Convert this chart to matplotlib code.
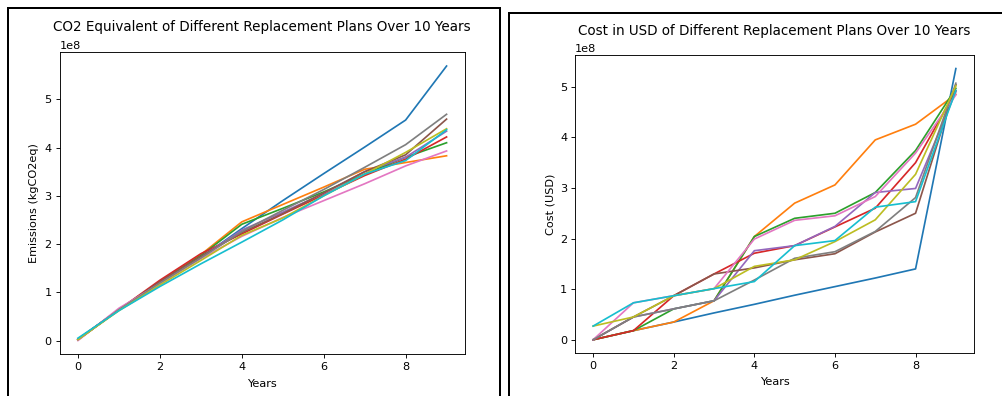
import matplotlib
matplotlib.use("Agg")
import matplotlib.pyplot as plt
from matplotlib.patches import Rectangle
import numpy as np

years = list(range(10))
plan_names = ["Plan 1", "Plan 2", "Plan 3", "Plan 4", "Plan 5",
              "Plan 6", "Plan 7", "Plan 8", "Plan 9", "Plan 10"]

# Cumulative emissions per plan (x 1e8 kgCO2eq)
emissions = [
    [0.03, 0.64, 1.20, 1.72, 2.32, 2.90, 3.46, 4.01, 4.57, 5.69],
    [0.02, 0.64, 1.22, 1.78, 2.46, 2.82, 3.18, 3.55, 3.69, 3.83],
    [0.02, 0.64, 1.21, 1.76, 2.41, 2.74, 3.08, 3.45, 3.80, 4.10],
    [0.02, 0.64, 1.25, 1.80, 2.21, 2.62, 3.02, 3.42, 3.76, 4.22],
    [0.02, 0.64, 1.20, 1.73, 2.29, 2.66, 3.05, 3.50, 3.80, 4.34],
    [0.02, 0.64, 1.22, 1.74, 2.24, 2.63, 3.06, 3.50, 3.85, 4.59],
    [0.00, 0.67, 1.18, 1.70, 2.16, 2.55, 2.90, 3.25, 3.62, 3.93],
    [0.02, 0.64, 1.19, 1.71, 2.26, 2.70, 3.13, 3.59, 4.06, 4.69],
    [0.02, 0.62, 1.15, 1.66, 2.18, 2.54, 3.00, 3.45, 3.90, 4.39],
    [0.05, 0.62, 1.12, 1.59, 2.04, 2.50, 3.00, 3.45, 3.73, 4.37],
]

# Cumulative cost per plan (x 1e8 USD)
costs = [
    [0.00, 0.18, 0.35, 0.53, 0.70, 0.88, 1.05, 1.22, 1.40, 5.36],
    [0.00, 0.18, 0.35, 0.77, 2.04, 2.70, 3.06, 3.95, 4.26, 4.85],
    [0.00, 0.18, 0.61, 0.77, 2.04, 2.40, 2.50, 2.91, 3.74, 4.97],
    [0.00, 0.18, 0.87, 1.30, 1.71, 1.86, 2.23, 2.60, 3.50, 4.92],
    [0.00, 0.45, 0.61, 0.77, 1.76, 1.86, 2.24, 2.91, 2.99, 4.90],
    [0.00, 0.45, 0.87, 1.30, 1.42, 1.58, 1.70, 2.13, 2.50, 5.04],
    [0.00, 0.73, 0.87, 1.01, 1.99, 2.36, 2.45, 2.83, 3.69, 4.84],
    [0.00, 0.45, 0.61, 0.77, 1.18, 1.61, 1.74, 2.14, 2.81, 5.07],
    [0.27, 0.45, 0.87, 1.01, 1.45, 1.58, 1.94, 2.37, 3.27, 5.02],
    [0.27, 0.73, 0.87, 1.01, 1.15, 1.86, 1.96, 2.62, 2.73, 4.93],
]

W, H = 1002, 396
DPI = 72
S = 1.13  # overall size scale for text, ticks and lines

plt.rcParams.update({
    "font.size": 10 * S,
    "axes.titlesize": 12 * S,
    "axes.labelsize": 10 * S,
    "xtick.labelsize": 10 * S,
    "ytick.labelsize": 10 * S,
    "lines.linewidth": 1.5 * S,
    "axes.linewidth": 0.8 * S,
    "xtick.major.size": 3.5 * S,
    "ytick.major.size": 3.5 * S,
    "xtick.major.width": 0.8 * S,
    "ytick.major.width": 0.8 * S,
    "xtick.major.pad": 3.5 * S,
    "ytick.major.pad": 3.5 * S,
    "axes.labelpad": 4 * S,
})

fig = plt.figure(figsize=(W / DPI, H / DPI), dpi=DPI)


def frac_box(x0, y0, x1, y1):
    """Pixel box (top-left origin) -> figure-fraction [left, bottom, width, height]."""
    return [x0 / W, 1 - y1 / H, (x1 - x0) / W, (y1 - y0) / H]


ax1 = fig.add_axes(frac_box(59.5, 52.3, 465, 354.3))
ax2 = fig.add_axes(frac_box(575, 55, 974, 353.3))

for name, vals in zip(plan_names, emissions):
    ax1.plot(years, np.array(vals) * 1e8, label=name)
ax1.set_title("CO2 Equivalent of Different Replacement Plans Over 10 Years",
              y=1 + (52.3 - 31) / 302, pad=0)
ax1.set_xlabel("Years", labelpad=6.5)
ax1.set_ylabel("Emissions (kgCO2eq)", labelpad=5.5)

for name, vals in zip(plan_names, costs):
    ax2.plot(years, np.array(vals) * 1e8, label=name)
ax2.set_title("Cost in USD of Different Replacement Plans Over 10 Years",
              y=1 + (55 - 35.5) / 298.3, pad=0)
ax2.set_xlabel("Years", labelpad=6)
ax2.set_ylabel("Cost (USD)")

# Frames around each panel
for (x0, y0, x1, y1) in [(8, 8, 500, 420), (508.5, 13, 1030, 420)]:
    l, b, w, h = frac_box(x0, y0, x1, y1)
    fig.add_artist(Rectangle((l, b), w, h, transform=fig.transFigure,
                             fill=False, edgecolor="black", linewidth=2,
                             clip_on=False))

fig.savefig("out.png", dpi=DPI)
